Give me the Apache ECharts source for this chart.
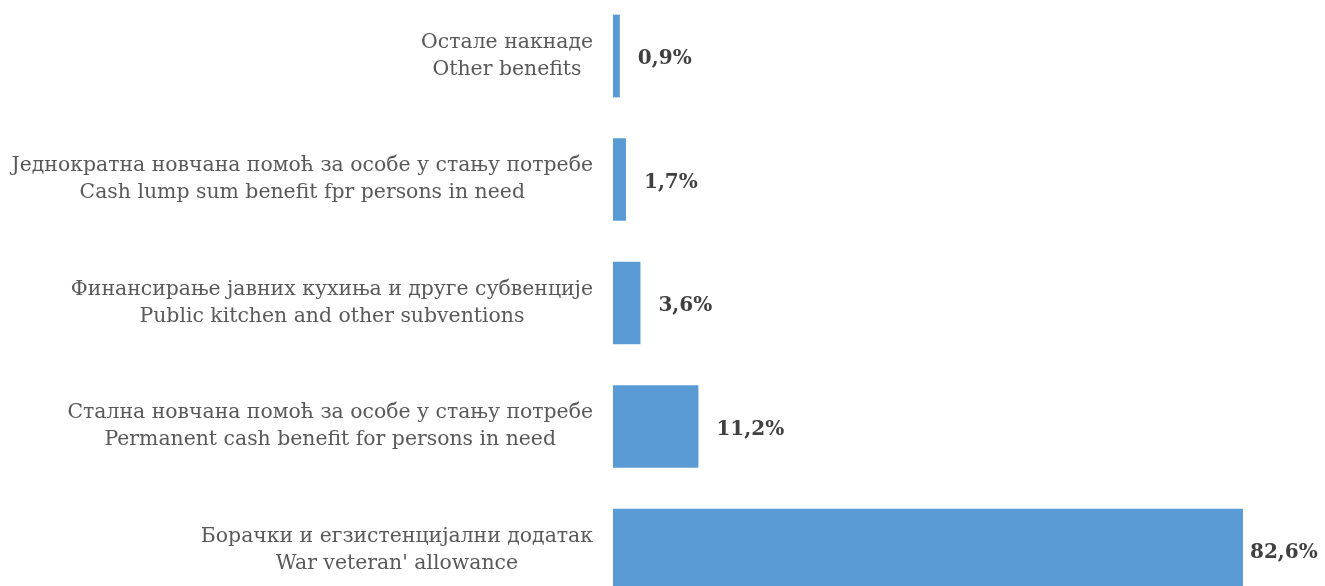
<!DOCTYPE html>
<html>
<head>
<meta charset="utf-8">
<script src="https://cdn.jsdelivr.net/npm/echarts@6/dist/echarts.min.js"></script>
<style>html,body{margin:0;padding:0;background:#fff}#c{width:1325px;height:586px}</style>
</head>
<body>
<div id="c"></div>
<script>
// bottom to top
const categoriesSr = [
  "Борачки и егзистенцијални додатак",
  "Стална новчана помоћ за особе у стању потребе",
  "Финансирање јавних кухиња и друге субвенције",
  "Једнократна новчана помоћ за особе у стању потребе",
  "Остале накнаде"
];
const categoriesEn = [
  "War veteran' allowance",
  "Permanent cash benefit for persons in need",
  "Public kitchen and other subventions",
  "Cash lump sum benefit fpr persons in need",
  "Other benefits"
];
const shares = [82.6, 11.2, 3.6, 1.7, 0.9];

const FONT = "'DejaVu Serif', serif";
const chart = echarts.init(document.getElementById('c'));
const cats = categoriesSr.map((s, i) => s + '\n' + categoriesEn[i]);
const maxIdx = shares.indexOf(Math.max(...shares));
chart.setOption({
  animation: false,
  grid: { left: 613, right: 25.6, top: 56, bottom: 36, containLabel: false },
  xAxis: { type: 'value', min: 0, max: 90, show: false },
  yAxis: {
    type: 'category',
    data: cats,
    boundaryGap: false,
    axisLine: { show: false },
    axisTick: { show: false },
    splitLine: { show: false },
    axisLabel: {
      margin: 20,
      align: 'right',
      formatter: function (v) {
        return v.split('\n').map(l => '{c|' + l + '}').join('\n');
      },
      rich: {
        c: { align: 'center', fontFamily: FONT, fontSize: 20.4, color: '#595959', lineHeight: 27 }
      }
    }
  },
  series: [{
    type: 'bar',
    barCategoryGap: '33%',
    itemStyle: { color: '#5B9BD5' },
    data: shares.map((v, i) => i === maxIdx ? { value: v, label: { distance: 7 } } : v),
    label: {
      show: true,
      position: 'right',
      distance: 18,
      offset: [0, 3],
      fontFamily: FONT,
      fontWeight: 'bold',
      fontSize: 20,
      color: '#404040',
      formatter: p => p.value.toFixed(1).replace('.', ',') + '%'
    }
  }]
});
</script>
</body>
</html>
